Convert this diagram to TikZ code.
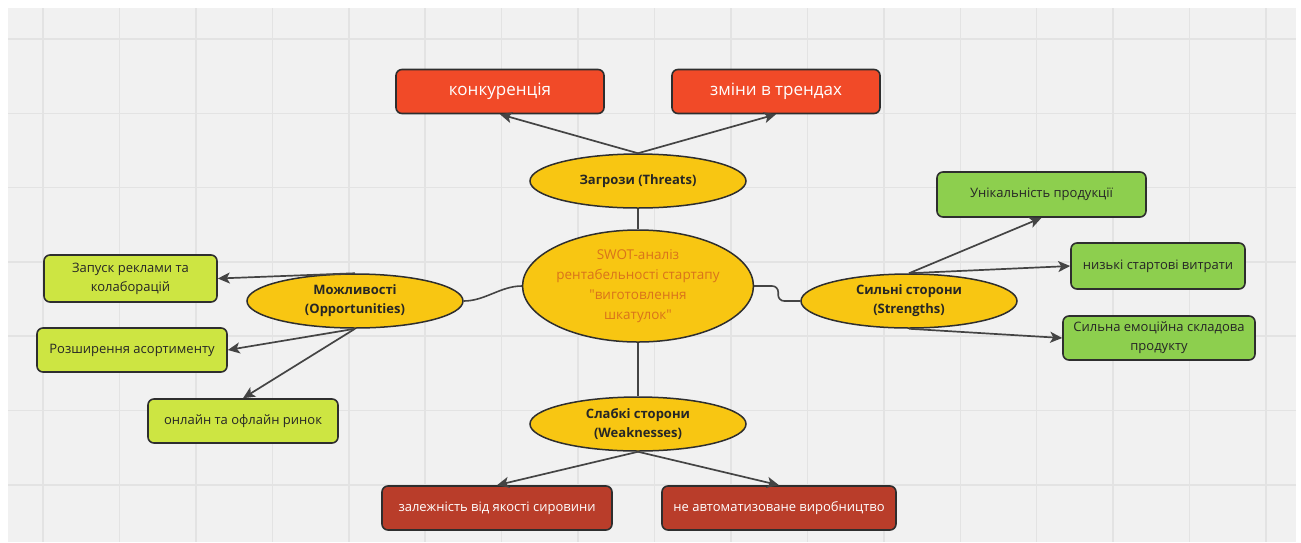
\documentclass[tikz,border=0pt]{standalone}
\usepackage{fontspec}
% plain family without TeX ligatures, so that " stays a straight quote
\newfontfamily\opensans{Open Sans}
\usetikzlibrary{shapes.geometric,arrows.meta}

\definecolor{canvas}{HTML}{F1F1F1}
\definecolor{gridln}{HTML}{E3E3E3}
\definecolor{edge}{HTML}{2E2E2E}
\definecolor{wire}{HTML}{444444}
\definecolor{sun}{HTML}{F8C612}
\definecolor{threatred}{HTML}{F14A28}
\definecolor{weakred}{HTML}{B93D2A}
\definecolor{strgreen}{HTML}{8DCF4E}
\definecolor{opplime}{HTML}{CDE542}
\definecolor{titleorange}{HTML}{D9731B}
\definecolor{ink}{HTML}{262626}

\tikzset{
  topic/.style={ellipse, draw=edge, line width=1.5, fill=sun, inner sep=0pt,
    minimum width=216, minimum height=54, align=center, text=ink,
    font=\opensans\fontsize{13}{19}\selectfont\bfseries},
  hub/.style={ellipse, draw=edge, line width=1.5, fill=sun, inner sep=0pt,
    minimum width=230, minimum height=112, align=center, text=titleorange,
    font=\opensans\fontsize{13.5}{20}\selectfont},
  card/.style={rectangle, rounded corners=6, draw=edge, line width=1.6,
    inner sep=0pt, align=center, font=\opensans\fontsize{13}{19}\selectfont},
  threatcard/.style={card, fill=threatred, text=white, font=\opensans\fontsize{17}{20}\selectfont},
  weakcard/.style={card, fill=weakred, text=white},
  strcard/.style={card, fill=strgreen, text=ink},
  oppcard/.style={card, fill=opplime, text=ink},
  link/.style={draw=wire, line width=1.7, -{Stealth[length=12, width=11, inset=3]}},
  tie/.style={draw=wire, line width=1.6},
}

\begin{document}
\begin{tikzpicture}[x=1pt, y=-1pt]
  % page and canvas
  \useasboundingbox (0,0) rectangle (1301,542);
  \fill[white] (0,0) rectangle (1301,542);
  \fill[canvas] (8,8) rectangle (1296,542);
  \foreach \k in {0,...,16} {
    \draw[gridln, line width=1.5] ({43+76.44*\k},8) -- ({43+76.44*\k},542);
  }
  \foreach \k in {0,...,6} {
    \draw[gridln, line width=1.5] (8,{39+74.3*\k}) -- (1296,{39+74.3*\k});
  }

  % central topic and the four SWOT branches
  \node[hub] (swot) at (638,286) {SWOT-аналіз\\рентабельності стартапу\\"виготовлення\\шкатулок"};
  \node[topic] (thr) at (638,181) {Загрози (Threats)};
  \node[topic] (weak) at (638,424) {Слабкі сторони\\(Weaknesses)};
  \node[topic] (str) at (909,301) {Сильні сторони\\(Strengths)};
  \node[topic] (opp) at (355,301) {Можливості\\(Opportunities)};

  % threats
  \node[threatcard, minimum width=208, minimum height=44] (thr1) at (500,91.5) {конкуренція};
  \node[threatcard, minimum width=208, minimum height=44] (thr2) at (776,91.5) {зміни в трендах};

  % weaknesses
  \node[weakcard, minimum width=230, minimum height=44] (wk1) at (497,508) {залежність від якості сировини};
  \node[weakcard, minimum width=234, minimum height=44] (wk2) at (779,508) {не автоматизоване виробництво};

  % strengths
  \node[strcard, minimum width=209, minimum height=45] (st1) at (1041.5,194.5) {Унікальність продукції};
  \node[strcard, minimum width=174, minimum height=46] (st2) at (1158,266) {низькі стартові витрати};
  \node[strcard, minimum width=192, minimum height=44] (st3) at (1159,338) {Сильна емоційна складова\\продукту};

  % opportunities
  \node[oppcard, minimum width=173, minimum height=47] (op1) at (130.5,278.5) {Запуск реклами та\\колаборацій};
  \node[oppcard, minimum width=190, minimum height=44] (op2) at (132,350) {Розширення асортименту};
  \node[oppcard, minimum width=190, minimum height=44] (op3) at (243,421) {онлайн та офлайн ринок};

  % ties between the hub and the branches
  \draw[tie] (thr.south) -- (swot.north);
  \draw[tie] (swot.south) -- (weak.north);
  \draw[tie, rounded corners=6] (swot.east) -- ++(24,0) |- (str.west);
  \draw[tie] (opp.east) to[out=0, in=180, looseness=0.9] (swot.west);

  % arrows to the items
  \draw[link] (thr.north) -- (thr1.south);
  \draw[link] (thr.north) -- (thr2.south);
  \draw[link] (weak.south) -- (wk1.north);
  \draw[link] (weak.south) -- (wk2.north);
  \draw[link] (str.north) -- (st1.south);
  \draw[link] (str.north) -- (st2.west);
  \draw[link] (str.south) -- (st3.west);
  \draw[link] (opp.north) -- (op1.east);
  \draw[link] (opp.south) -- (op2.east);
  \draw[link] (opp.south) -- (op3.north);
\end{tikzpicture}
\end{document}
